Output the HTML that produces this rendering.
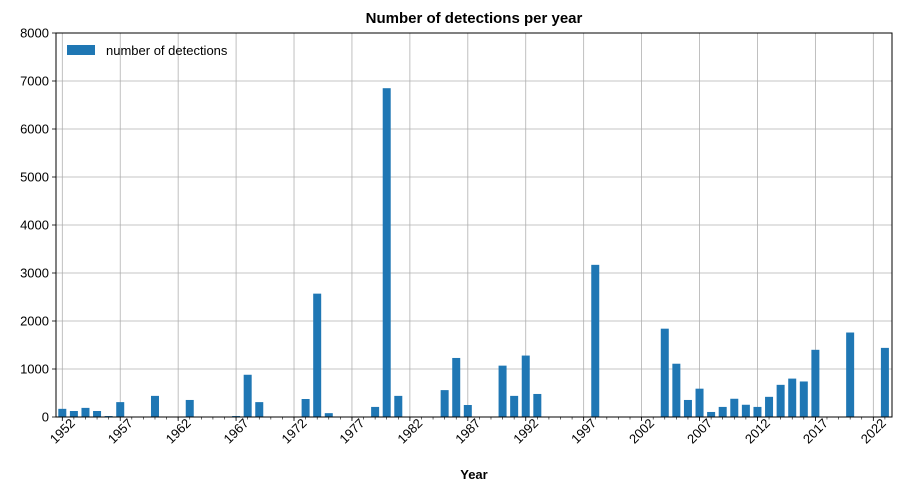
<!DOCTYPE html>
<html><head><meta charset="utf-8"><style>
body{margin:0;background:#fff;}
svg{display:block;font-family:"Liberation Sans","DejaVu Sans",sans-serif;}
</style></head><body>
<svg id="chart" width="901" height="491" viewBox="0 0 901 491" xmlns="http://www.w3.org/2000/svg">
<rect width="901" height="491" fill="#fff"/>
<text x="474" y="23" text-anchor="middle" font-size="15" font-weight="bold">Number of detections per year</text>
<text x="474" y="479" text-anchor="middle" font-size="13" font-weight="bold">Year</text>
<g id="grid"></g><g id="bars"></g><g id="axes"></g>
<g>
<rect x="67" y="45" width="28" height="10" fill="#1f77b4"/>
<text x="106" y="55" font-size="13">number of detections</text>
</g>
</svg>
<script>
const years = [];
for (let y = 1952; y <= 2023; y++) years.push(y);
const detYears = [1952,1953,1954,1955,1956,1957,1960,1963,1967,1968,1969,1973,1974,1975,1979,1980,1981,1985,1986,1987,1990,1991,1992,1993,1998,2004,2005,2006,2007,2008,2009,2010,2011,2012,2013,2014,2015,2016,2017,2020,2023];
const detValues = [170,125,190,125,20,310,440,355,20,880,310,375,2570,80,210,6850,440,560,1230,250,1070,440,1280,480,3170,1840,1110,355,590,105,210,380,255,210,420,670,800,740,1400,1760,1440];
const yTicks = [0,1000,2000,3000,4000,5000,6000,7000,8000];
const xTickLabels = [1952,1957,1962,1967,1972,1977,1982,1987,1992,1997,2002,2007,2012,2017,2022];

const NS = "http://www.w3.org/2000/svg";
const L = 56, R = 892, T = 33, B = 417;
const x = yr => 62.3 + (yr - 1952) * 11.586;
const y = v => B - v * (B - T) / 8000;
function mk(tag, attrs, parent){const e=document.createElementNS(NS,tag);for(const k in attrs)e.setAttribute(k,attrs[k]);parent.appendChild(e);return e;}
const grid=document.getElementById('grid'), bars=document.getElementById('bars'), axes=document.getElementById('axes');

yTicks.forEach(v=>{
  const g=mk('line',{x1:L,x2:R,y1:y(v),y2:y(v),stroke:'#b0b0b0','stroke-width':0.8},grid);
  
  
  mk('line',{x1:L-4,x2:L,y1:y(v),y2:y(v),stroke:'#000','stroke-width':0.8},axes);
  const t=mk('text',{x:L-7,y:y(v)+4.5,'text-anchor':'end','font-size':13},axes);
  t.textContent=v;
  
  
});
years.forEach(yr=>{
  mk('line',{x1:x(yr),x2:x(yr),y1:B,y2:B+2.5,stroke:'#000','stroke-width':0.6},axes);
});
xTickLabels.forEach(yr=>{
  const g=mk('line',{x1:x(yr),x2:x(yr),y1:T,y2:B,stroke:'#b0b0b0','stroke-width':0.8},grid);
  
  
  mk('line',{x1:x(yr),x2:x(yr),y1:B,y2:B+4,stroke:'#000','stroke-width':0.8},axes);
  const t=mk('text',{x:0,y:0,'text-anchor':'middle','dominant-baseline':'central','font-size':13,transform:`translate(${x(yr)},${B+14}) rotate(-45)`},axes);
  t.textContent=yr;
  
  
});
detYears.forEach((yr,i)=>{
  const r=mk('rect',{x:x(yr)-4,y:y(detValues[i]),width:8,height:B-y(detValues[i]),fill:'#1f77b4'},bars);
  
  
});
mk('rect',{x:L,y:T,width:R-L,height:B-T,fill:'none',stroke:'#000','stroke-width':1},axes);
</script>
</body></html>
